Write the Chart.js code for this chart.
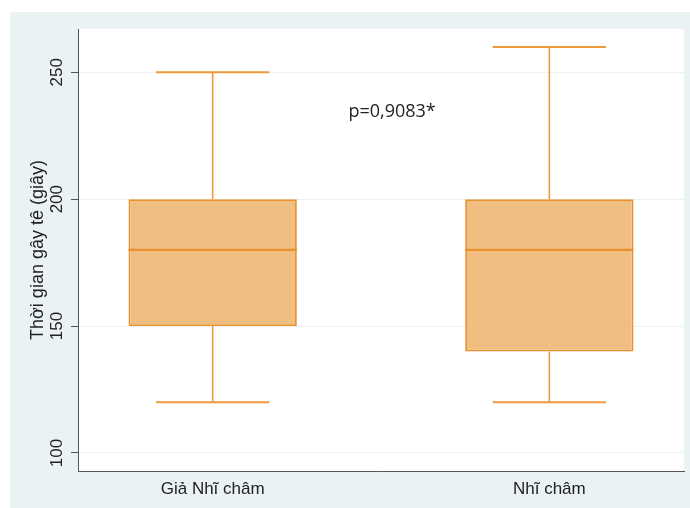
<!DOCTYPE html>
<html>
<head>
<meta charset="utf-8">
<script src="https://cdn.jsdelivr.net/npm/chart.js@4"></script>
<style>
  html, body { margin: 0; padding: 0; background: #ffffff; }
  #wrap { position: absolute; left: 10px; top: 12px; width: 680px; height: 496px; background: #EAF2F3; }
  canvas { display: block; }
</style>
</head>
<body>
<div id="wrap"><canvas id="c" width="680" height="496"></canvas></div>
<script>
// ---- data ----
const categories = ['Giả Nhĩ châm', 'Nhĩ châm'];
const minVals    = [120, 120];
const q1Vals     = [150, 140];
const medianVals = [180, 180];
const q3Vals     = [200, 200];
const maxVals    = [250, 260];
const yTickValues = [100, 150, 200, 250];
const yTitle = 'Thời gian gây tê (giây)';
const pValueText = 'p=0,9083*';

// ---- style constants ----
const BOX_HALF = 0.25;
const CAP_HALF = 0.168;
const ORANGE = '#E8912E';
const ORANGE_LINE = '#EE9A3C';
const FILL = '#F0BE80';
const FONT = 'Liberation Sans, Arial, sans-serif';

const xPos = categories.map((c, i) => i + 1);

const boxData = xPos.map((x, i) => ({ x: x, y: [q1Vals[i], q3Vals[i]] }));
const medianData = [];
const whiskerData = [];
const capData = [];
xPos.forEach((x, i) => {
  medianData.push({ x: x - BOX_HALF, y: medianVals[i] }, { x: x + BOX_HALF, y: medianVals[i] }, { x: x + 0.3, y: null });
  whiskerData.push({ x: x, y: q3Vals[i] }, { x: x, y: maxVals[i] }, { x: x + 0.01, y: null });
  whiskerData.push({ x: x, y: q1Vals[i] }, { x: x, y: minVals[i] }, { x: x + 0.02, y: null });
  capData.push({ x: x - CAP_HALF, y: maxVals[i] }, { x: x + CAP_HALF, y: maxVals[i] }, { x: x + 0.2, y: null });
  capData.push({ x: x - CAP_HALF, y: minVals[i] }, { x: x + CAP_HALF, y: minVals[i] }, { x: x + 0.2, y: null });
});

const plotBg = {
  id: 'plotBg',
  beforeDraw(chart) {
    const { ctx, chartArea: a } = chart;
    ctx.save();
    ctx.fillStyle = '#ffffff';
    ctx.fillRect(a.left, a.top, a.right - a.left, a.bottom - a.top);
    ctx.restore();
  }
};

const pValueLabel = {
  id: 'pValueLabel',
  afterDatasetsDraw(chart, args, opts) {
    const { ctx, scales } = chart;
    ctx.save();
    ctx.font = opts.font;
    ctx.fillStyle = opts.color;
    ctx.textAlign = 'center';
    ctx.textBaseline = 'middle';
    ctx.fillText(opts.text, scales.x.getPixelForValue(opts.x), scales.y.getPixelForValue(opts.y));
    ctx.restore();
  }
};

new Chart(document.getElementById('c'), {
  type: 'bar',
  data: {
    datasets: [
      {
        type: 'line', data: whiskerData, borderColor: ORANGE_LINE, borderWidth: 1.6,
        pointRadius: 0, fill: false, spanGaps: false, order: 3
      },
      {
        type: 'line', data: capData, borderColor: ORANGE_LINE, borderWidth: 2,
        pointRadius: 0, fill: false, spanGaps: false, order: 3
      },
      {
        type: 'bar', data: boxData, backgroundColor: FILL, borderColor: ORANGE,
        borderWidth: 1.8, borderSkipped: false, categoryPercentage: 1, barPercentage: 0.5, order: 2
      },
      {
        type: 'line', data: medianData, borderColor: ORANGE, borderWidth: 2.2,
        pointRadius: 0, fill: false, spanGaps: false, order: 1
      }
    ]
  },
  options: {
    responsive: false,
    animation: false,
    layout: { padding: { top: 17, right: 6, left: 0, bottom: 0 } },
    plugins: {
      legend: { display: false },
      tooltip: { enabled: false },
      pValueLabel: { text: pValueText, x: 1.533, y: 234.3, font: '18px "Open Sans", sans-serif', color: '#222222' }
    },
    scales: {
      x: {
        type: 'linear',
        offset: false,
        min: 0.6, max: 2.4,
        afterBuildTicks: (s) => { s.ticks = xPos.map(v => ({ value: v })); },
        afterFit: (s) => { s.height = 37; },
        grid: { offset: false, drawOnChartArea: false, drawTicks: false },
        border: { display: true, color: '#555555', width: 1 },
        ticks: {
          padding: 8,
          font: { family: FONT, size: 17 },
          color: '#222222',
          callback: (v) => categories[Math.round(v) - 1] || ''
        }
      },
      y: {
        type: 'linear',
        min: 92.9, max: 267.06,
        afterBuildTicks: (s) => { s.ticks = yTickValues.map(v => ({ value: v })); },
        afterFit: (s) => { s.width = 68; },
        grid: { color: '#EAF2F3', lineWidth: 1, tickColor: '#555555', tickLength: 7 },
        border: { display: true, color: '#555555', width: 1 },
        title: {
          display: true, text: yTitle, color: '#222222',
          font: { family: FONT, size: 18 }, padding: { top: 17.5, bottom: 0 }
        },
        ticks: {
          minRotation: 90, maxRotation: 90, crossAlign: 'center', padding: 0,
          font: { family: FONT, size: 17 }, color: '#222222'
        }
      }
    }
  },
  plugins: [plotBg, pValueLabel]
});
</script>
</body>
</html>
